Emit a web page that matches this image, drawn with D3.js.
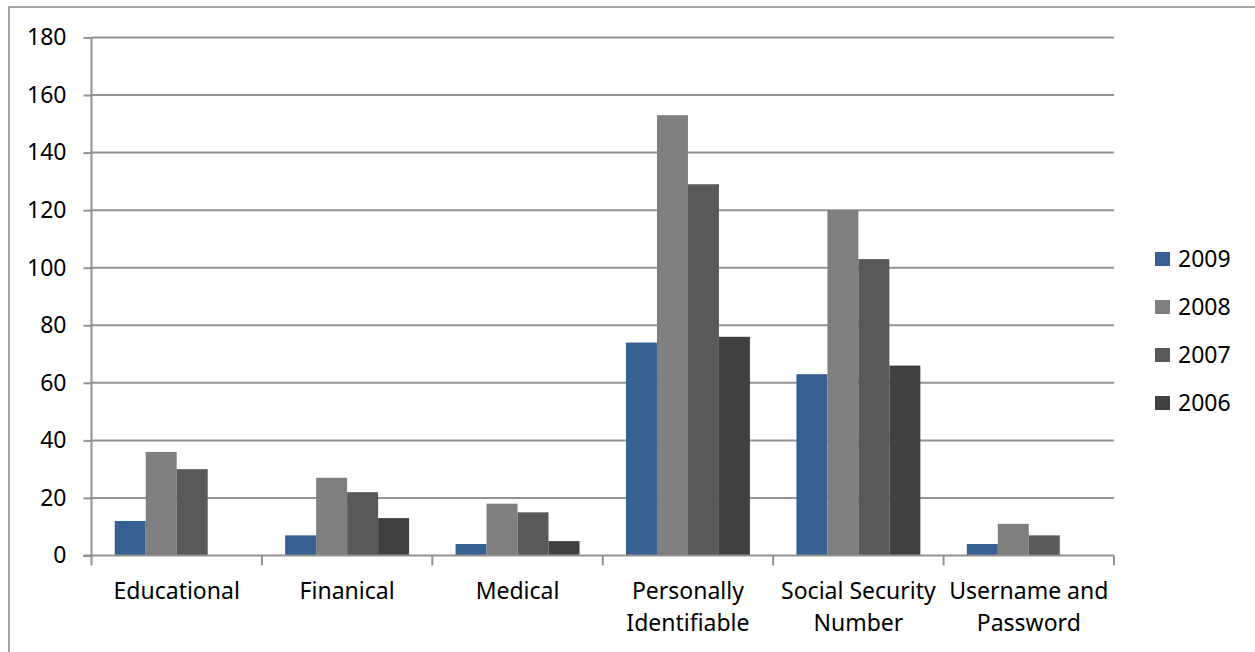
<!DOCTYPE html>
<html>
<head>
<meta charset="utf-8">
<script src="https://cdn.jsdelivr.net/npm/d3@7"></script>
<style>
  html, body { margin: 0; padding: 0; background: #fff; }
  svg { display: block; }
  text { font-family: "Noto Sans", "Open Sans", sans-serif; fill: #000; }
</style>
</head>
<body>
<svg id="chart" width="1255" height="652"></svg>
<script>
// Breach counts by data type and year
const categories = ["Educational", "Finanical", "Medical", "Personally Identifiable", "Social Security Number", "Username and Password"];
const years = ["2009", "2008", "2007", "2006"];
const values2009 = [12, 7, 4, 74, 63, 4];
const values2008 = [36, 27, 18, 153, 120, 11];
const values2007 = [30, 22, 15, 129, 103, 7];
const values2006 = [0, 13, 5, 76, 66, 0];
const yTicks = [0, 20, 40, 60, 80, 100, 120, 140, 160, 180];
const colors = ["#376092", "#7f7f7f", "#595959", "#404040"];

const seriesValues = [values2009, values2008, values2007, values2006];
const rows = categories.map((c, i) => ({
  category: c,
  bars: years.map((y, j) => ({ year: y, value: seriesValues[j][i] }))
}));

const FONT = "23px";
const svg = d3.select("#chart");
const plot = { left: 91.5, right: 1114, top: 37.5, bottom: 555.5 };

// Outer frame
svg.append("rect")
  .attr("x", 9).attr("y", 7)
  .attr("width", 1300).attr("height", 700)
  .attr("fill", "none").attr("stroke", "#8a8a8a").attr("stroke-width", 1.5);

const x0 = d3.scaleBand().domain(categories).range([plot.left, plot.right]).paddingInner(0).paddingOuter(0);
const barW = x0.bandwidth() / 5.5;
const x1 = d3.scaleBand().domain(years)
  .range([barW * 0.75, x0.bandwidth() - barW * 0.75]).padding(0);
const y = d3.scaleLinear().domain([0, 180]).range([plot.bottom, plot.top]);
const color = d3.scaleOrdinal().domain(years).range(colors);

// Horizontal gridlines
svg.append("g").selectAll("line")
  .data(yTicks.filter(t => t > 0))
  .join("line")
  .attr("x1", plot.left).attr("x2", plot.right)
  .attr("y1", d => y(d)).attr("y2", d => y(d))
  .attr("stroke", "#929292").attr("stroke-width", 2);

// Bars
const groups = svg.append("g").selectAll("g")
  .data(rows).join("g")
  .attr("transform", d => `translate(${x0(d.category)},0)`);
groups.selectAll("rect")
  .data(d => d.bars).join("rect")
  .attr("x", d => x1(d.year))
  .attr("width", x1.bandwidth())
  .attr("y", d => y(d.value))
  .attr("height", d => y(0) - y(d.value))
  .attr("fill", d => color(d.year));

// Y axis
const yAxis = d3.axisLeft(y).tickValues(yTicks).tickSize(8).tickPadding(17);
const gy = svg.append("g").attr("transform", `translate(${plot.left},0)`).call(yAxis);
gy.select(".domain").attr("stroke", "#929292").attr("stroke-width", 2)
  .attr("d", `M0,${plot.top}V${plot.bottom}`);
gy.selectAll(".tick line").attr("stroke", "#929292").attr("stroke-width", 2);
gy.selectAll(".tick text").style("font-size", FONT).attr("fill", "#000")
  .style("font-family", "'Noto Sans', sans-serif");

// X axis baseline and category boundary ticks
const gx = svg.append("g");
gx.append("line")
  .attr("x1", plot.left - 8).attr("x2", plot.right)
  .attr("y1", y(0)).attr("y2", y(0))
  .attr("stroke", "#929292").attr("stroke-width", 2);
const bounds = categories.map(c => x0(c)).concat([x0(categories[categories.length - 1]) + x0.bandwidth()]);
gx.selectAll("line.tick").data(bounds).join("line")
  .attr("class", "tick")
  .attr("x1", d => d).attr("x2", d => d)
  .attr("y1", y(0)).attr("y2", y(0) + 10)
  .attr("stroke", "#929292").attr("stroke-width", 2);

// Category labels, wrapped to the band width
const maxW = x0.bandwidth() - 4;
categories.forEach(c => {
  const cx = x0(c) + x0.bandwidth() / 2;
  const t = svg.append("text")
    .attr("x", cx).attr("y", 599)
    .attr("text-anchor", "middle")
    .style("font-size", FONT);
  const words = c.split(" ");
  let line = [];
  let tspan = t.append("tspan").attr("x", cx).attr("dy", 0);
  words.forEach(w => {
    line.push(w);
    tspan.text(line.join(" "));
    if (tspan.node().getComputedTextLength() > maxW && line.length > 1) {
      line.pop();
      tspan.text(line.join(" "));
      line = [w];
      tspan = t.append("tspan").attr("x", cx).attr("dy", 32).text(w);
    }
  });
});

// Legend
const legend = svg.append("g").selectAll("g")
  .data(years).join("g")
  .attr("transform", (d, i) => `translate(1155,${259 + i * 48})`);
legend.append("rect")
  .attr("x", 0).attr("y", -7).attr("width", 15).attr("height", 14)
  .attr("fill", d => color(d));
legend.append("text")
  .attr("x", 23).attr("y", 0).attr("dy", "0.36em")
  .style("font-size", FONT)
  .text(d => d);
</script>
</body>
</html>
